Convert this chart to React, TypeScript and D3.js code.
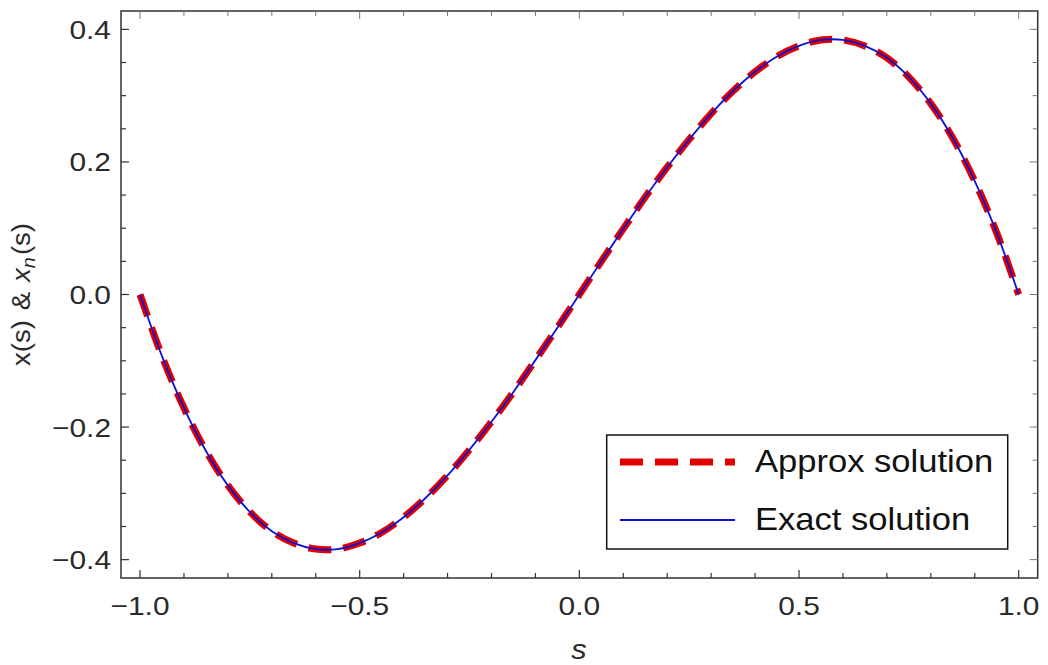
import React from "react";
import * as d3 from "d3";

// sample points s
const S_VALUES = [
  -1.0, -0.95, -0.9, -0.85, -0.8, -0.75, -0.7, -0.65, -0.6, -0.55, -0.5, -0.45, -0.4, -0.35, -0.3, -0.25, -0.2, -0.15, -0.1, -0.05,
  0.0, 0.05, 0.1, 0.15, 0.2, 0.25, 0.3, 0.35, 0.4, 0.45, 0.5, 0.55, 0.6, 0.65, 0.7, 0.75, 0.8, 0.85, 0.9, 0.95, 1.0,
];
// exact solution x(s)
const EXACT_VALUES = [
  0.0, -0.093, -0.171, -0.236, -0.288, -0.328, -0.357, -0.375, -0.384, -0.384, -0.375, -0.359, -0.336, -0.307, -0.273, -0.234, -0.192, -0.147, -0.099, -0.05,
  0.0, 0.05, 0.099, 0.147, 0.192, 0.234, 0.273, 0.307, 0.336, 0.359, 0.375, 0.384, 0.384, 0.375, 0.357, 0.328, 0.288, 0.236, 0.171, 0.093, 0.0,
];
// approximate solution x_n(s)
const APPROX_VALUES = [
  0.0, -0.093, -0.171, -0.236, -0.288, -0.328, -0.357, -0.375, -0.384, -0.384, -0.375, -0.359, -0.336, -0.307, -0.273, -0.234, -0.192, -0.147, -0.099, -0.05,
  0.0, 0.05, 0.099, 0.147, 0.192, 0.234, 0.273, 0.307, 0.336, 0.359, 0.375, 0.384, 0.384, 0.375, 0.357, 0.328, 0.288, 0.236, 0.171, 0.093, 0.0,
];

const X_MAJOR = [-1.0, -0.5, 0.0, 0.5, 1.0];
const X_LABELS = ["\u22121.0", "\u22120.5", "0.0", "0.5", "1.0"];
const Y_MAJOR = [-0.4, -0.2, 0.0, 0.2, 0.4];
const Y_LABELS = ["\u22120.4", "\u22120.2", "0.0", "0.2", "0.4"];
const LEGEND_LABELS = ["Approx solution", "Exact solution"];

const W = 1048;
const H = 665;
const LEFT = 121;
const RIGHT = 1037.7;
const TOP = 11;
const BOTTOM = 578;
const FONT = "'Liberation Sans', Arial, Helvetica, sans-serif";
const AXIS = "#333";
const TXT = "#2a2a2a";

export default function App() {
  const x = d3.scaleLinear().domain([-1.0433, 1.0433]).range([LEFT, RIGHT]);
  const y = d3.scaleLinear().domain([-0.4277, 0.4277]).range([BOTTOM, TOP]);

  const xMinor = d3.range(-1.0, 1.0001, 0.1).filter((v) => !X_MAJOR.some((m) => Math.abs(m - v) < 1e-6));
  const yMinor = d3.range(-0.4, 0.4001, 0.05).filter((v) => !Y_MAJOR.some((m) => Math.abs(m - v) < 1e-6));

  const line = d3
    .line<number>()
    .x((_, i) => x(S_VALUES[i]))
    .y((d) => y(d))
    .curve(d3.curveCatmullRom.alpha(0.5));

  const maj = 8;
  const min = 5;
  const sx = 1.15;

  return (
    <svg
      width={W}
      height={H}
      style={{ position: "absolute", left: 0, top: 0, background: "#fff" }}
      fontFamily={FONT}
    >
      <rect x={0} y={0} width={W} height={H} fill="#fff" />
      {/* curves */}
      <path
        d={line(APPROX_VALUES) || ""}
        fill="none"
        stroke="#e00000"
        strokeWidth={7}
        strokeDasharray="23 12"
      />
      <path d={line(EXACT_VALUES) || ""} fill="none" stroke="#1010d0" strokeWidth={1.8} />

      {/* frame */}
      <rect x={LEFT} y={TOP} width={RIGHT - LEFT} height={BOTTOM - TOP} fill="none" stroke={AXIS} strokeWidth={1.5} />

      {/* x ticks */}
      {X_MAJOR.map((v, i) => (
        <g key={"xm" + i}>
          <line x1={x(v)} x2={x(v)} y1={BOTTOM} y2={BOTTOM - maj} stroke={AXIS} strokeWidth={1.2} />
          <line x1={x(v)} x2={x(v)} y1={TOP} y2={TOP + maj} stroke="#777" strokeWidth={1} />
          <text
            transform={`translate(${x(v)}, 615) scale(${sx}, 1)`}
            textAnchor="middle"
            fontSize={26}
            fill={TXT}
          >
            {X_LABELS[i]}
          </text>
        </g>
      ))}
      {xMinor.map((v, i) => (
        <g key={"xn" + i}>
          <line x1={x(v)} x2={x(v)} y1={BOTTOM} y2={BOTTOM - min} stroke={AXIS} strokeWidth={1.2} />
          <line x1={x(v)} x2={x(v)} y1={TOP} y2={TOP + min} stroke="#777" strokeWidth={1} />
        </g>
      ))}

      {/* y ticks */}
      {Y_MAJOR.map((v, i) => (
        <g key={"ym" + i}>
          <line x1={LEFT} x2={LEFT + maj} y1={y(v)} y2={y(v)} stroke={AXIS} strokeWidth={1.2} />
          <line x1={RIGHT} x2={RIGHT - maj} y1={y(v)} y2={y(v)} stroke="#777" strokeWidth={1} />
          <text
            transform={`translate(111, ${y(v) + 9.5}) scale(${sx}, 1)`}
            textAnchor="end"
            fontSize={26}
            fill={TXT}
          >
            {Y_LABELS[i]}
          </text>
        </g>
      ))}
      {yMinor.map((v, i) => (
        <g key={"yn" + i}>
          <line x1={LEFT} x2={LEFT + min} y1={y(v)} y2={y(v)} stroke={AXIS} strokeWidth={1.2} />
          <line x1={RIGHT} x2={RIGHT - min} y1={y(v)} y2={y(v)} stroke="#777" strokeWidth={1} />
        </g>
      ))}

      {/* axis labels */}
      <text
        transform={`translate(579, 659) scale(1.1, 1)`}
        textAnchor="middle"
        fontSize={28}
        fontStyle="italic"
        fill={TXT}
      >
        s
      </text>
      <text
        transform={`translate(30, ${(TOP + BOTTOM) / 2}) rotate(-90) scale(1.1, 1)`}
        textAnchor="middle"
        fontSize={25}
        fill={TXT}
      >
        <tspan>x(s)</tspan>
        <tspan dx={9}>&amp;</tspan>
        <tspan dx={9} fontStyle="italic">x</tspan>
        <tspan fontStyle="italic" fontSize={18} dy={5}>n</tspan>
        <tspan dy={-5} dx={2}>(s)</tspan>
      </text>

      {/* legend */}
      <rect x={606.7} y={435} width={401} height={114} fill="#fff" stroke="#111" strokeWidth={1.5} />
      <line x1={620} x2={735} y1={462} y2={462} stroke="#e00000" strokeWidth={7} strokeDasharray="23 12" />
      <line x1={620} x2={735} y1={520} y2={520} stroke="#1010d0" strokeWidth={1.8} />
      <text transform={`translate(755, 472) scale(1.08, 1)`} fontSize={32} fill="#111">
        {LEGEND_LABELS[0]}
      </text>
      <text transform={`translate(755, 530) scale(1.08, 1)`} fontSize={32} fill="#111">
        {LEGEND_LABELS[1]}
      </text>
    </svg>
  );
}
